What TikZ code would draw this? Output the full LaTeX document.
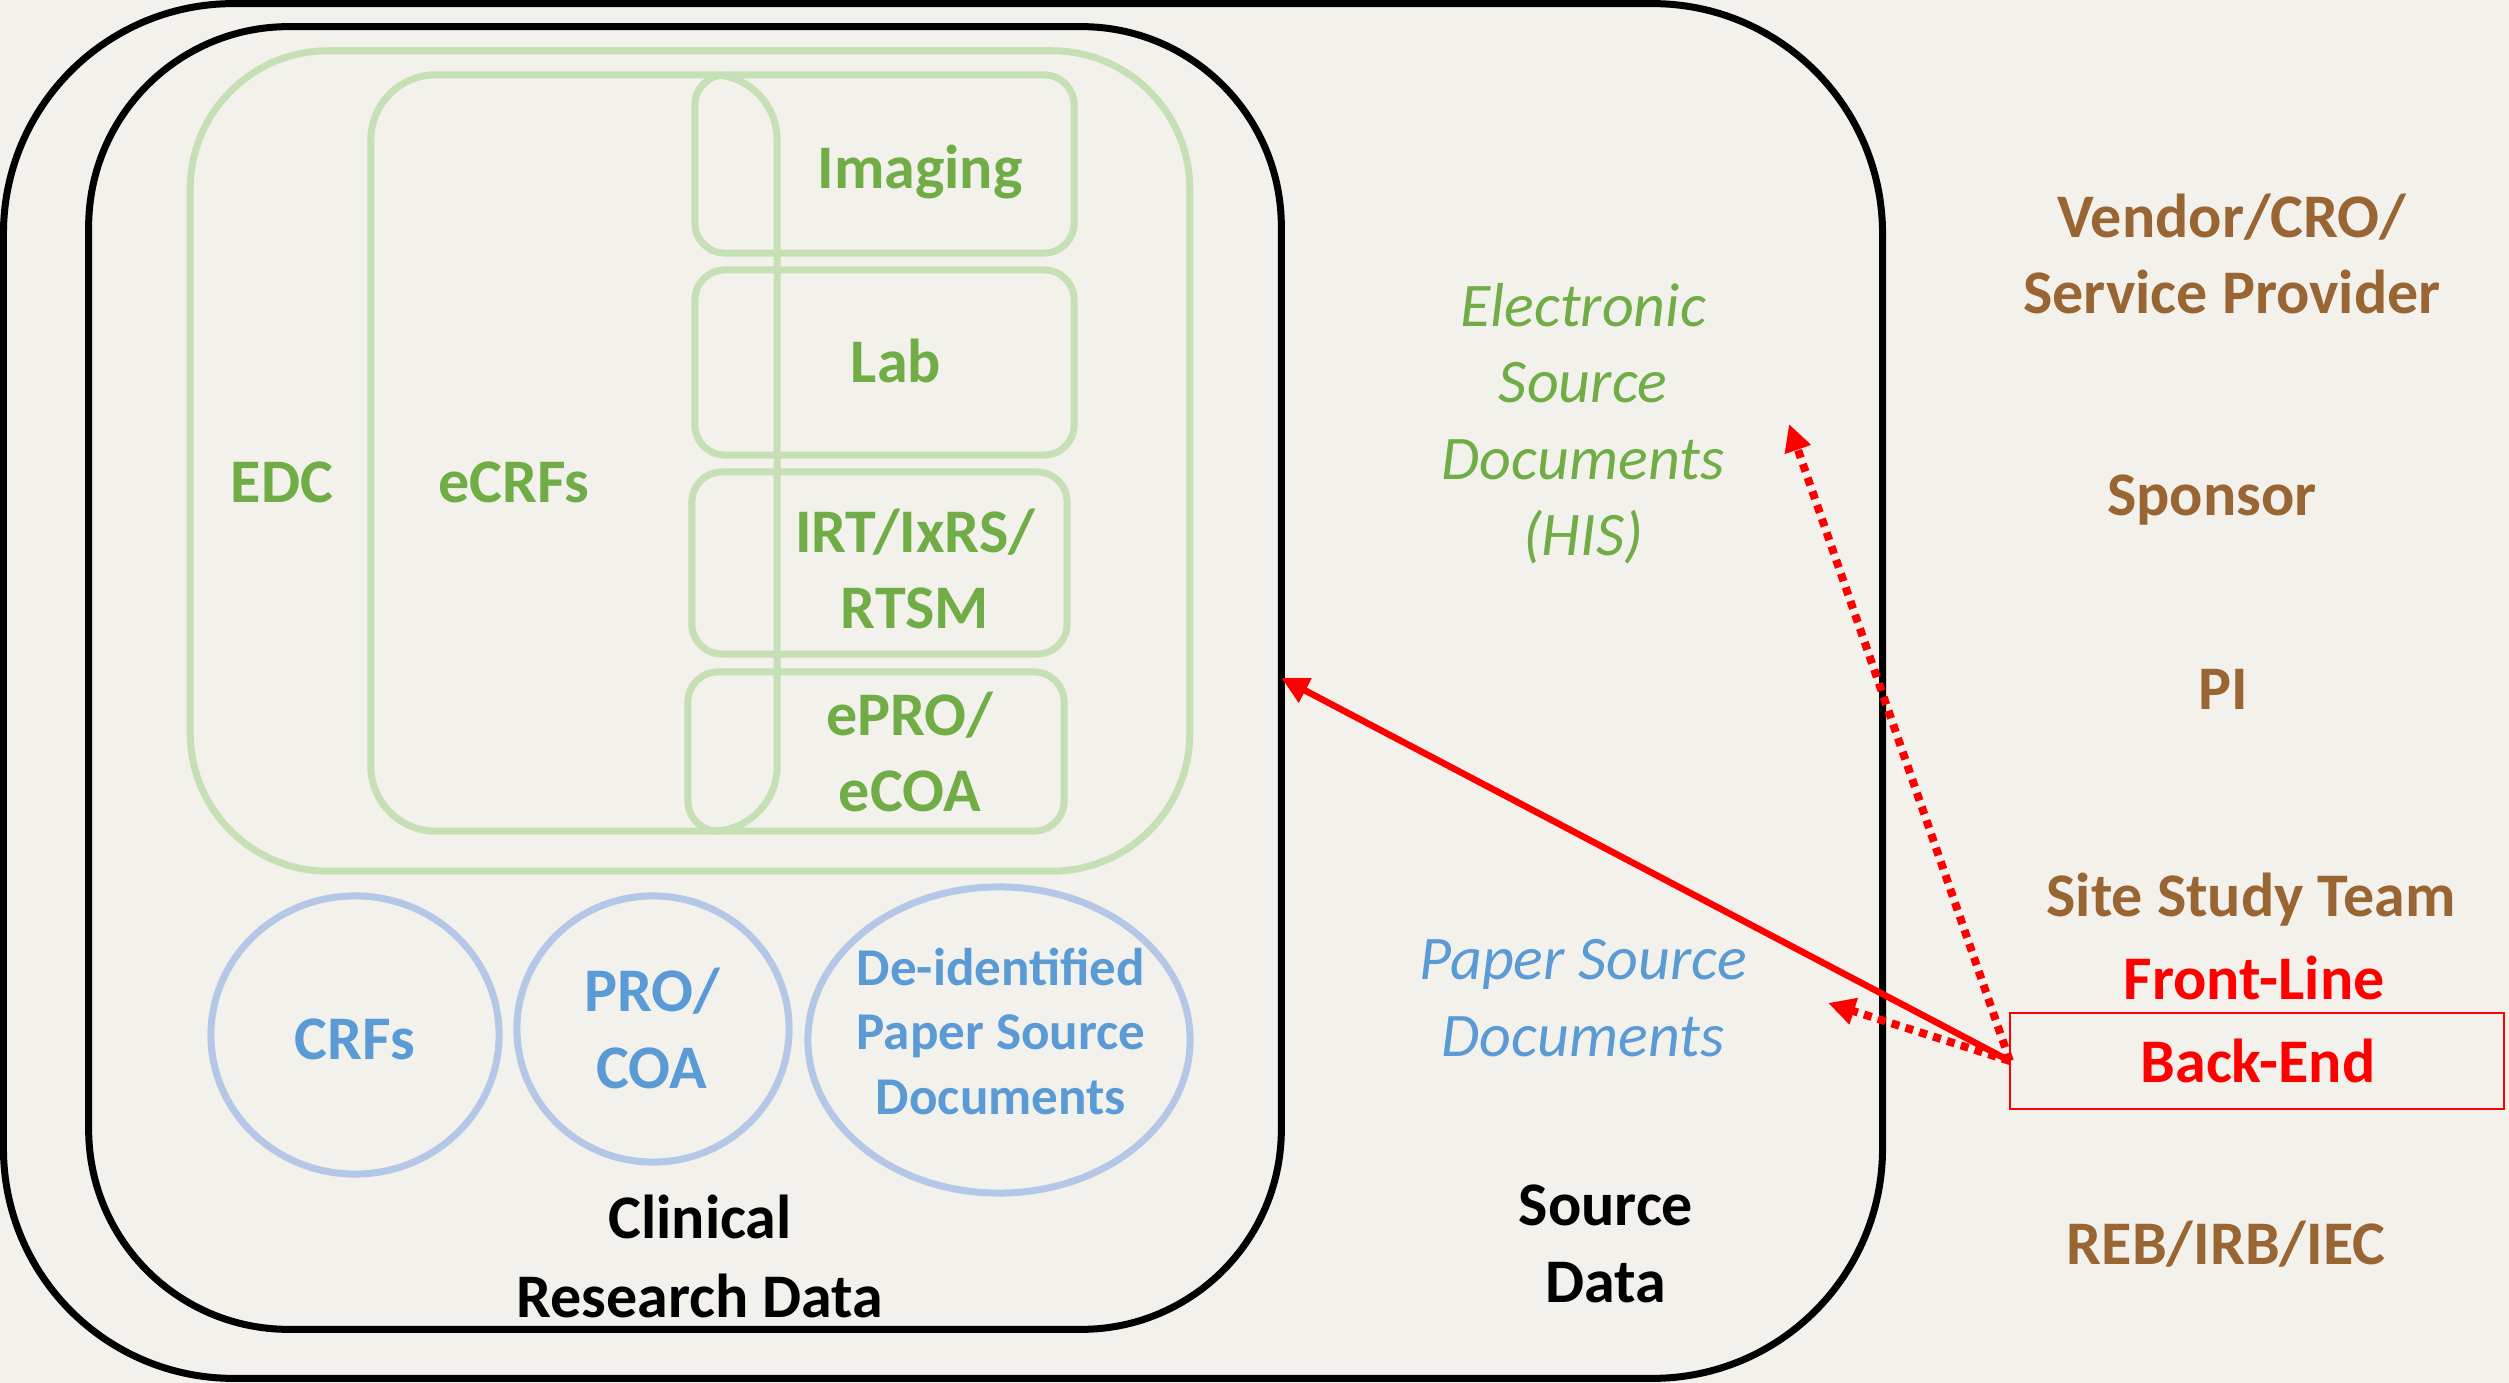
\documentclass[tikz,border=0pt]{standalone}
\usepackage{fontspec}
\setmainfont{Carlito}
\usetikzlibrary{arrows.meta,shapes.geometric}

\definecolor{paper}{RGB}{243,241,236}
\definecolor{leaf}{RGB}{112,173,71}
\definecolor{leaflight}{RGB}{197,224,180}
\definecolor{sky}{RGB}{91,155,213}
\definecolor{skylight}{RGB}{180,199,231}
\definecolor{umber}{RGB}{153,102,51}

\tikzset{
  frame/.style={draw=black, line width=0.07cm, rounded corners=#1, inner sep=0pt, outer sep=0pt},
  gbox/.style={draw=leaflight, line width=0.07cm, rounded corners=#1, inner sep=0pt, outer sep=0pt},
  bell/.style={ellipse, draw=skylight, line width=0.07cm, inner sep=0pt, outer sep=0pt},
  % multi-line labels are placed by the baseline of their last line
  lbl/.style={anchor=base, inner sep=0pt, outer sep=0pt, align=center,
              font=\fontsize{17.64}{21.8}\selectfont},
  blbl/.style={lbl, font=\bfseries\fontsize{17.64}{21.8}\selectfont},
  slbl/.style={lbl, font=\bfseries\fontsize{15.1}{18.2}\selectfont},
  ilbl/.style={lbl, font=\itshape\fontsize{17.64}{21.8}\selectfont},
  solidarrow/.style={draw=red, line width=0.065cm, -{Triangle[length=0.27cm,width=0.26cm]}},
  dotarrow/.style={draw=red, line width=0.08cm, dash pattern=on 0.08cm off 0.065cm,
                   -{Triangle[length=0.27cm,width=0.26cm]}},
}

\begin{document}
\begin{tikzpicture}[x=0.01cm, y=-0.01cm]
  % page
  \fill[paper] (0,0) rectangle (2509,1383);
  \useasboundingbox (0,0) rectangle (2509,1383);

  % source data and clinical research data frames
  \node[frame=2.3cm, minimum width=18.78cm, minimum height=13.74cm] (srcbox) at (943,691) {};
  \node[frame=2.0cm, minimum width=11.92cm, minimum height=13.02cm] (crdbox) at (685,678) {};

  % electronic data capture group
  \node[gbox=1.38cm, minimum width=9.99cm, minimum height=8.20cm] (edcbox) at (690,461) {};
  \node[gbox=0.65cm, minimum width=4.06cm, minimum height=7.56cm] (ecrfbox) at (574,453) {};
  \node[gbox=0.3cm, minimum width=3.79cm, minimum height=1.78cm] (imgbox) at (884.5,164) {};
  \node[gbox=0.3cm, minimum width=3.79cm, minimum height=1.85cm] (labbox) at (884.5,362.5) {};
  \node[gbox=0.3cm, minimum width=3.75cm, minimum height=1.82cm] (irtbox) at (879.5,563) {};
  \node[gbox=0.3cm, minimum width=3.76cm, minimum height=1.59cm] (eprobox) at (876,751.5) {};

  \node[blbl, text=leaf] (edc) at (282,503) {EDC};
  \node[blbl, text=leaf] (ecrf) at (514,503) {eCRFs};
  \node[blbl, text=leaf] (img) at (920,189) {Imaging};
  \node[blbl, text=leaf] (lab) at (896,383) {Lab};
  \node[blbl, text=leaf] (irt) at (915,629) {IRT/IxRS/\\RTSM};
  \node[blbl, text=leaf] (epro) at (910,812) {ePRO/\\eCOA};

  % paper records
  \node[bell, minimum width=2.88cm, minimum height=2.78cm] (crfell) at (355,1035) {};
  \node[bell, minimum width=2.72cm, minimum height=2.66cm] (proell) at (653,1029) {};
  \node[bell, minimum width=3.82cm, minimum height=3.06cm] (deidell) at (999,1040) {};

  \node[blbl, text=sky] (crf) at (355,1059) {CRFs};
  \node[blbl, text=sky] (pro) at (652,1088) {PRO/\\COA};
  \node[slbl, text=sky] (deid) at (1001,1114) {De-identified\\Paper Source\\Documents};

  \node[blbl, text=black, font=\bfseries\fontsize{17.64}{22.2}\selectfont] (crd) at (700,1317) {Clinical\\Research Data};

  % source documents
  \node[ilbl, text=leaf] (esd) at (1583,556) {Electronic\\Source\\Documents\\(HIS)};
  \node[ilbl, text=sky] (psd) at (1583,1056) {Paper Source\\Documents};
  \node[blbl, text=black] (sd) at (1606,1302) {Source\\Data};

  % roles
  \node[blbl, text=umber] (vendor) at (2232,314) {Vendor/CRO/\\Service Provider};
  \node[blbl, text=umber] (sponsor) at (2212,516) {Sponsor};
  \node[blbl, text=umber] (pi) at (2223,710) {PI};
  \node[blbl, text=umber] (site) at (2251,917) {Site Study Team};
  \node[blbl, text=red] (front) at (2254,999) {Front-Line};
  \node[draw=red, line width=0.02cm, minimum width=4.94cm, minimum height=0.95cm,
        inner sep=0pt, outer sep=0pt] (be) at (2257,1061) {};
  \node[blbl, text=red] (back) at (2258,1082) {Back-End};
  \node[blbl, text=umber] (reb) at (2226,1264) {REB/IRB/IEC};

  % data flows from the back-end team
  \coordinate (esdtip) at (1789,424);
  \coordinate (psdtip) at (1828,1003);
  \draw[dotarrow] (be.west) -- (esdtip);
  \draw[dotarrow] (be.west) -- (psdtip);
  \draw[solidarrow] (be.west) -- (crdbox.east);
\end{tikzpicture}
\end{document}
